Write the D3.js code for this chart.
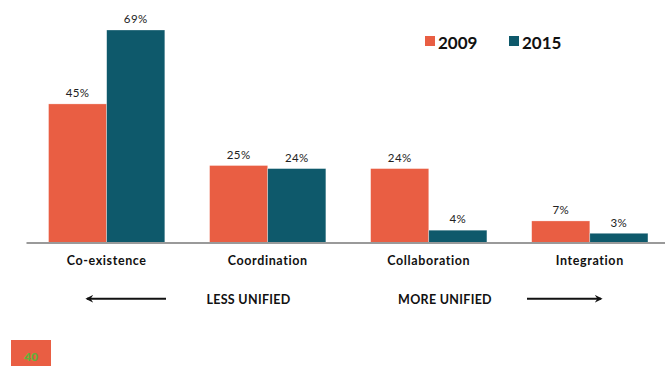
<!DOCTYPE html>
<html>
<head>
<meta charset="utf-8">
<script src="https://cdn.jsdelivr.net/npm/d3@7"></script>
<style>
  html, body { margin: 0; padding: 0; background: #fff; }
  svg { display: block; font-family: Lato, "Noto Sans", sans-serif; }
</style>
</head>
<body>
<svg id="chart" width="665" height="366"></svg>
<script>
// Share of organisations at each level of unification
const categories = ["Co-existence", "Coordination", "Collaboration", "Integration"];
const seriesNames = ["2009", "2015"];
const values2009 = [45, 25, 24, 7];
const values2015 = [69, 24, 4, 3];
const colors = ["#E95E43", "#0E596B"];

const svg = d3.select("#chart");
const baseline = 242.5;

const x = d3.scaleBand()
  .domain(categories)
  .range([26, 670.5])
  .paddingInner(0.278)
  .paddingOuter(0.14);

const xSeries = d3.scaleBand()
  .domain(seriesNames)
  .range([0, x.bandwidth()]);

const y = d3.scaleLinear()
  .domain([0, 69])
  .range([baseline, 30]);

const rows = categories.map((c, i) => ({
  category: c,
  items: [
    { series: "2009", value: values2009[i] },
    { series: "2015", value: values2015[i] }
  ]
}));

const color = d3.scaleOrdinal().domain(seriesNames).range(colors);

// Bars
const groups = svg.append("g").selectAll("g")
  .data(rows)
  .join("g")
  .attr("transform", d => `translate(${x(d.category)},0)`);

groups.selectAll("rect")
  .data(d => d.items)
  .join("rect")
  .attr("x", d => xSeries(d.series))
  .attr("y", d => y(d.value))
  .attr("width", xSeries.bandwidth())
  .attr("height", d => baseline - y(d.value))
  .attr("fill", d => color(d.series))
  .attr("stroke", "rgba(255,255,255,0.5)")
  .attr("stroke-width", 0.6);

// Value labels
groups.selectAll("text")
  .data(d => d.items)
  .join("text")
  .attr("x", d => xSeries(d.series) + xSeries.bandwidth() / 2)
  .attr("y", d => y(d.value) - 6.7)
  .attr("text-anchor", "middle")
  .attr("font-size", 11.5)
  .attr("letter-spacing", 0.4)
  .attr("fill", "#222")
  .text(d => d.value + "%");

// Baseline axis
const axis = d3.axisBottom(x).tickSize(0).tickPadding(14);
const axisG = svg.append("g")
  .attr("transform", `translate(0,${baseline})`)
  .call(axis);
axisG.select(".domain")
  .attr("stroke", "#9a9a9a")
  .attr("stroke-width", 2);
axisG.selectAll(".tick text")
  .attr("font-family", "Lato, sans-serif")
  .attr("font-size", 12.5)
  .attr("font-weight", "bold")
  .attr("letter-spacing", 0.6)
  .attr("fill", "#111");

// Legend
const legendX = [425, 509];
const legend = svg.append("g").selectAll("g")
  .data(seriesNames)
  .join("g")
  .attr("transform", (d, i) => `translate(${legendX[i]},36)`);
legend.append("rect")
  .attr("width", 10).attr("height", 10)
  .attr("fill", d => color(d));
legend.append("text")
  .attr("x", 13).attr("y", 13)
  .attr("font-size", 17)
  .attr("font-weight", "bold")
  .attr("fill", "#111")
  .text(d => d);

// Direction arrows
const defs = svg.append("defs");
defs.append("marker")
  .attr("id", "head")
  .attr("viewBox", "0 0 10 10")
  .attr("refX", 8).attr("refY", 5)
  .attr("markerWidth", 4.2).attr("markerHeight", 4.2)
  .attr("markerUnits", "strokeWidth")
  .attr("orient", "auto")
  .append("path")
  .attr("d", "M0,0 L10,5 L0,10 L3.5,5 Z")
  .attr("fill", "#111");

const arrowY = 298.8;
svg.append("line")
  .attr("x1", 166).attr("y1", arrowY).attr("x2", 87).attr("y2", arrowY)
  .attr("stroke", "#111").attr("stroke-width", 1.9)
  .attr("marker-end", "url(#head)");
svg.append("line")
  .attr("x1", 527).attr("y1", arrowY).attr("x2", 601).attr("y2", arrowY)
  .attr("stroke", "#111").attr("stroke-width", 1.9)
  .attr("marker-end", "url(#head)");

svg.append("text")
  .attr("x", 248.5).attr("y", 304)
  .attr("text-anchor", "middle")
  .attr("font-size", 12.5).attr("font-weight", "bold").attr("fill", "#111")
  .attr("letter-spacing", 0.3)
  .text("LESS UNIFIED");
svg.append("text")
  .attr("x", 445).attr("y", 304)
  .attr("text-anchor", "middle")
  .attr("font-size", 12.5).attr("font-weight", "bold").attr("fill", "#111")
  .attr("letter-spacing", 0.3)
  .text("MORE UNIFIED");

// Page number tab
svg.append("rect")
  .attr("x", 11).attr("y", 340).attr("width", 40).attr("height", 26)
  .attr("fill", "#E95E43");
svg.append("text")
  .attr("x", 31).attr("y", 360.5)
  .attr("text-anchor", "middle")
  .attr("font-size", 12).attr("font-weight", 900)
  .attr("fill", "#62B23A")
  .text("40");
</script>
</body>
</html>
